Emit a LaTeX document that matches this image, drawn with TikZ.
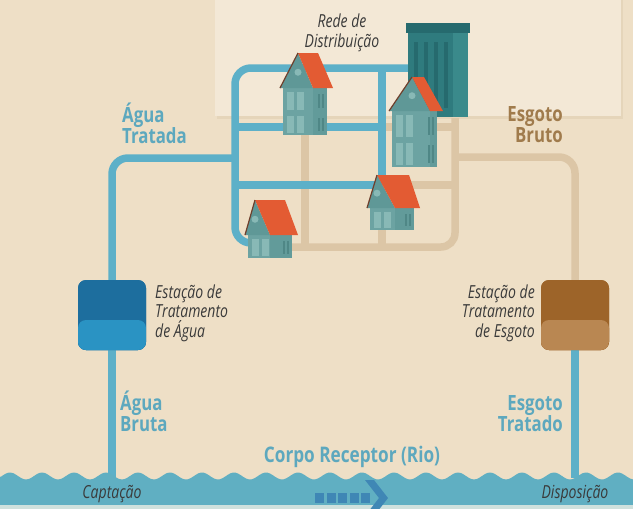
\documentclass[tikz,border=0pt]{standalone}
\usepackage{fontspec}
\setmainfont{Open Sans}
\newfontfamily\tagfont[FakeStretch=0.8]{Open Sans}
\newfontfamily\notefont[FakeStretch=0.78]{Open Sans}

\definecolor{bgcol}{HTML}{EEDFC6}
\definecolor{boxcol}{HTML}{F3E8D6}
\definecolor{boxshade}{HTML}{E5D5BA}
\definecolor{pipeblue}{HTML}{5DB0C8}
\definecolor{pipetan}{HTML}{DCC6A6}
\definecolor{tagblue}{HTML}{5DA8BE}
\definecolor{tagtan}{HTML}{A07B4C}
\definecolor{notecol}{HTML}{3A3A3A}
\definecolor{rivercol}{HTML}{60AFC2}
\definecolor{riverfoot}{HTML}{CFE1DD}
\definecolor{flowcol}{HTML}{3F87B5}
\definecolor{wtatop}{HTML}{1D6E9E}
\definecolor{wtabot}{HTML}{2A93C3}
\definecolor{etetop}{HTML}{9D6429}
\definecolor{etebot}{HTML}{B98752}
\definecolor{bodycol}{HTML}{6CA3A2}
\definecolor{sidecol}{HTML}{629B9A}
\definecolor{gablecol}{HTML}{5F9897}
\definecolor{wincol}{HTML}{88B9B6}
\definecolor{slitcol}{HTML}{4F8786}
\definecolor{roofcol}{HTML}{E35B33}
\definecolor{roofline}{HTML}{6E3F2C}
\definecolor{bldgcol}{HTML}{2F7B7E}
\definecolor{bldgdark}{HTML}{266A6E}
\definecolor{bldgside}{HTML}{3A8A8B}

\tikzset{
  aguapipe/.style={draw=pipeblue, line width=7.5pt},
  esgotopipe/.style={draw=pipetan, line width=7.5pt},
  station/.style={minimum width=68pt, minimum height=70pt, rounded corners=8pt, inner sep=0pt},
  tagtext/.style={font=\tagfont\bfseries\fontsize{21}{21}\selectfont, inner sep=0pt},
  notetext/.style={font=\notefont\itshape\fontsize{18}{19.5}\selectfont, text=notecol, inner sep=0pt},
  housebody/.style={fill=bodycol},
  houseside/.style={fill=sidecol},
  housewin/.style={fill=wincol},
  houseslit/.style={fill=slitcol},
  housegable/.style={fill=gablecol},
  roofred/.style={fill=roofcol},
  roofedge/.style={draw=roofline, line width=1.2pt},
}

% house: peak x, peak y, ridge end x, eave right x, eave y, eave left x,
% gable/roof split x, floor line y, number of storeys
\newcommand\housedraw[9]{%
  \begin{scope}
  \pgfmathsetmacro\hL{#6+3}
  \pgfmathsetmacro\hR{#4-6}
  \fill[housebody] (\hL,#5) rectangle (\hR,#8);
  \fill[houseside] (#7,#5) rectangle (\hR,#8);
  \pgfmathsetmacro\hF{(#8-#5)/#9}
  \foreach \f in {1,...,#9}{
    \pgfmathsetmacro\fa{#5+(\f-1)*\hF}
    \pgfmathsetmacro\fb{#5+\f*\hF}
    \fill[housewin] ({\hL+4},{\fa+4}) rectangle ({\hL+11},{\fb-2});
    \fill[housewin] ({\hL+14},{\fa+4}) rectangle ({\hL+21},{\fb-2});
    \fill[houseslit] ({\hR-9},{\fa+6}) rectangle ({\hR-7},{\fb-4});
    \fill[houseslit] ({\hR-5},{\fa+6}) rectangle ({\hR-3},{\fb-4});
  }
  \fill[housegable] (#6,#5) -- (#1,#2) -- (#7,#5) -- cycle;
  \fill[roofred] (#1,#2) -- (#3,#2) -- (#4,#5) -- (#7,#5) -- cycle;
  \draw[roofedge] (#6,#5) -- (#1,#2);
  \fill[housewin] (#1,{#2+0.55*(#5-#2)}) circle[radius=3.5pt];
  \end{scope}}

\begin{document}
\begin{tikzpicture}[x=1pt, y=-1pt]
\useasboundingbox (0,0) rectangle (633,509);
\fill[bgcol] (0,0) rectangle (633,509);

% panel behind the distribution network
\fill[boxshade] (217,0) rectangle (623,119);
\fill[boxcol] (215,0) rectangle (621,116);

% junction points of the network
\coordinate (gTL) at (235,68);
\coordinate (gTR) at (410,68);
\coordinate (gBL) at (258,243);
\coordinate (feed) at (235,158);
\coordinate (h1L) at (235,127);
\coordinate (h1M) at (382,127);
\coordinate (h1R) at (455,127);
\coordinate (h2L) at (235,185);
\coordinate (h2M) at (382,185);
\coordinate (h2R) at (455,185);
\coordinate (vMtop) at (382,68);
\coordinate (vMbot) at (382,247);
\coordinate (v1top) at (305,127);
\coordinate (v1bot) at (305,247);
\coordinate (sTop) at (455,118);
\coordinate (sBot) at (285,247);
\coordinate (sOut) at (455,157);
\coordinate (captacao) at (112,478);
\coordinate (disposicao) at (575,478);

% stations
\node[station, fill=wtatop,
  path picture={\fill[wtabot] ([yshift=-5pt]path picture bounding box.west) rectangle (path picture bounding box.south east);}]
  (wta) at (112,315) {};
\node[station, fill=etetop,
  path picture={\fill[etebot] ([yshift=-5pt]path picture bounding box.west) rectangle (path picture bounding box.south east);}]
  (ete) at (575,315) {};

% sewage collection (tan)
\draw[esgotopipe, rounded corners=14pt] (sTop) |- (sBot);
\draw[esgotopipe] (h1M) -- (h1R);
\draw[esgotopipe] (h2M) -- (h2R);
\draw[esgotopipe] (v1top) -- (v1bot);
\draw[esgotopipe] (h2M) -- (vMbot);
\draw[esgotopipe, rounded corners=16pt] (sOut) -| (ete.north);

% treated water distribution (blue)
\draw[aguapipe, rounded corners=16pt] (gBL) -| (gTL) -- (gTR);
\draw[aguapipe] (h1L) -- (h1M);
\draw[aguapipe] (h2L) -- (h2M);
\draw[aguapipe] (vMtop) -- (h2M);
\draw[aguapipe, rounded corners=16pt] (wta.north) |- (feed);
\draw[aguapipe] (captacao) -- (wta.south);
\draw[aguapipe] (ete.south) -- (disposicao);

% redraw stations above the pipes
\node[station, fill=wtatop,
  path picture={\fill[wtabot] ([yshift=-5pt]path picture bounding box.west) rectangle (path picture bounding box.south east);}]
  at (wta) {};
\node[station, fill=etetop,
  path picture={\fill[etebot] ([yshift=-5pt]path picture bounding box.west) rectangle (path picture bounding box.south east);}]
  at (ete) {};

% apartment block
\fill[bldgcol] (408,25) rectangle (468,117);
\fill[bldgside] (453,33) rectangle (468,117);
\fill[bldgdark] (406,23) rectangle (470,33);
\foreach \wx in {414,424,434,444}
  \fill[bldgdark] (\wx,42) rectangle ({\wx+4},108);

% houses
\housedraw{298}{53}{318}{333}{88}{280}{313}{135}{2}
\housedraw{412}{77}{424}{443}{111}{389}{430}{167}{2}
\housedraw{377}{175}{409}{420}{208}{367}{395}{230}{1}
\housedraw{255}{200}{285}{298}{235}{245}{270}{258}{1}

% flow labels (anchored at the baseline of the last line)
\node[tagtext, text=tagblue, anchor=base west, align=left] (lblTratada) at (122,143) {Água\\Tratada};
\node[tagtext, text=tagtan, anchor=base east, align=right] (lblBruto) at (563,142) {Esgoto\\Bruto};
\node[tagtext, text=tagblue, anchor=base west, align=left] (lblBruta) at (120,431) {Água\\Bruta};
\node[tagtext, text=tagblue, anchor=base east, align=right] (lblEsgTrat) at (563,431) {Esgoto\\Tratado};
\node[tagtext, text=tagblue, anchor=base, font=\tagfont\bfseries\fontsize{21.5}{21.5}\selectfont] (lblRio) at (352,462) {Corpo Receptor (Rio)};

% notes
\node[notetext, anchor=base, align=center] (lblRede) at (342,47) {Rede de\\Distribuição};
\node[notetext, anchor=base west, align=left] (lblWta) at (155,337) {Estação de\\Tratamento\\de Água};
\node[notetext, anchor=base east, align=right] (lblEte) at (535,337) {Estação de\\Tratamento\\de Esgoto};

% river
\fill[rivercol] (0,509) -- (0,476)
  -- plot[domain=0:633, samples=240] (\x, {476 - 3.5*cos(11.25*(\x-10))})
  -- (633,509) -- cycle;
\fill[riverfoot] (0,505) rectangle (633,509);

\node[notetext, anchor=base] (lblCapt) at (112,498) {Captação};
\node[notetext, anchor=base] (lblDisp) at (575,498) {Disposição};

% flow direction
\foreach \i in {0,...,4}
  \fill[flowcol] ({315+\i*11.5},493) rectangle ++(9,10);
\fill[flowcol] (365,480) -- (374,480) -- (388,498) -- (374,516) -- (365,516) -- (379,498) -- cycle;
\end{tikzpicture}
\end{document}
